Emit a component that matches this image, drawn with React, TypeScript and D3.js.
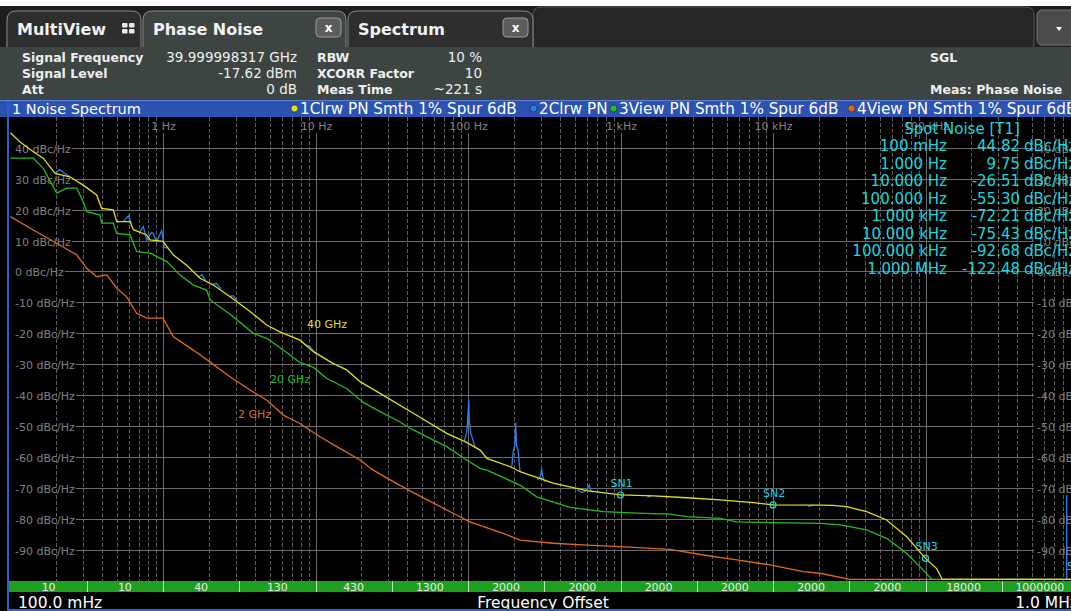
import React, { useEffect, useRef } from 'react';
import * as d3 from 'd3';

const W = 1071;
const H = 611;
const FONT = "'DejaVu Sans', Verdana, sans-serif";

// ---- axis / labels data ----
const decadeFreqs = [1, 10, 100, 1e3, 1e4, 1e5];
const decadeLabels = ['1 Hz', '10 Hz', '100 Hz', '1 kHz', '10 kHz', '100 kHz'];
const yTicks = [40, 30, 20, 10, 0, -10, -20, -30, -40, -50, -60, -70, -80, -90];
const avgCounts = ['10', '10', '40', '130', '430', '1300', '2000', '2000', '2000', '2000', '2000', '2000', '18000', '1000000'];

// ---- traces: [offset frequency Hz, dBc/Hz] ----
const trace1_40GHz: [number, number][] = [
  [0.1, 44.8], [0.115, 41.9], [0.141, 38.7], [0.164, 36.6], [0.196, 31.7], [0.245, 30.6], [0.3, 27.9],
  [0.367, 24.7], [0.396, 20.4], [0.472, 19.9], [0.497, 16.1], [0.608, 16.1], [0.639, 13.5], [0.782, 11.8],
  [0.822, 10.2], [1.0, 9.7], [1.17, 5.3], [1.43, 2.0], [1.75, -2.2], [2.14, -4.4], [2.89, -8.9], [3.72, -12.9],
  [4.78, -17.3], [5.85, -19.5], [7.9, -22.2], [9.7, -25.9], [13, -29.7], [16, -31.8], [19.6, -35.6], [26.5, -39.4],
  [43.8, -45.8], [72.5, -52.3], [98, -55.2], [120, -57.7], [133, -60.4], [190, -63.1], [219, -64.7], [362, -68.4],
  [600, -70.8], [1000, -72.2], [1640, -72.5], [2716, -73.1], [4490, -73.8], [7430, -74.7], [10000, -75.4],
  [20300, -75.5], [24800, -75.6], [30400, -76.0], [41100, -77.6], [55600, -80.3], [75300, -85.7],
  [100000, -92.7], [118400, -96.0], [128800, -100.5], [200000, -108], [1000000, -122.5],
];

const trace3_20GHz: [number, number][] = [
  [0.1, 36.6], [0.141, 36.6], [0.164, 33.3], [0.201, 25.3], [0.234, 26.9], [0.272, 26.9], [0.3, 22.5],
  [0.316, 19.3], [0.387, 18.2], [0.396, 15.6], [0.472, 15.6], [0.497, 12.3], [0.608, 11.8], [0.673, 6.4],
  [0.822, 5.9], [1.06, 3.2], [1.29, -1.1], [1.58, -4.4], [1.93, -6.0], [2.04, -9.2], [2.89, -14.6],
  [3.91, -20.0], [4.78, -21.6], [6.15, -25.4], [7.9, -29.4], [9.7, -31.0], [11.8, -34.5], [16, -37.8],
  [20.6, -42.3], [26.5, -45.3], [34, -48.0], [43.8, -51.2], [56.3, -53.9], [72.5, -56.6], [98, -60.9],
  [120, -63.6], [133, -64.2], [219, -69.0], [282, -72.8], [467, -76.2], [771, -77.6], [1276, -78.1],
  [2113, -78.4], [2716, -79.2], [4490, -79.8], [5780, -80.9], [12300, -81.2], [20300, -81.4], [27500, -81.9],
  [41100, -83.5], [55600, -86.2], [75300, -91.1], [96800, -96.5], [110000, -100.5], [200000, -112],
  [1000000, -125],
];

const trace4_2GHz: [number, number][] = [
  [0.1, 17.7], [0.141, 13.4], [0.201, 9.1], [0.272, 5.3], [0.316, 1.0], [0.367, -1.7], [0.428, -1.1],
  [0.497, -5.4], [0.578, -8.2], [0.673, -13.5], [0.782, -15.1], [1.0, -15.1], [1.17, -21.1], [1.58, -25.4],
  [2.03, -29.2], [2.75, -34.0], [3.72, -38.3], [4.78, -41.5], [6.15, -46.4], [7.9, -49.1], [10.7, -53.4],
  [13.8, -56.6], [19.6, -60.9], [23.9, -64.2], [36, -69.2], [48.4, -72.6], [80, -78.1], [103, -80.9],
  [170, -84.6], [219, -86.8], [362, -87.8], [600, -88.4], [993, -88.9], [2113, -89.8], [3490, -91.6],
  [5780, -93.2], [9550, -94.8], [15800, -97.0], [20300, -97.5], [32000, -100.3], [100000, -110],
  [1000000, -130],
];

// trace 2 (Clrw PN, raw): only where it departs from the smoothed trace 1
const trace2Segments: [number, number][][] = [
  [[0.196, 31.7], [0.21, 32.9], [0.225, 31.8], [0.245, 30.6]],
  [[0.55, 16.1], [0.593, 18.0], [0.62, 15.5]],
  [[0.7, 12.6], [0.743, 14.5], [0.782, 10.2], [0.84, 12.6], [0.863, 12.3], [0.907, 9.6], [0.98, 13.2], [1.02, 7.8], [1.08, 7.6]],
  [[1.7, -1.9], [1.8, -1.0], [1.9, -2.9]],
  [[2.1, -4.2], [2.25, -3.9], [2.4, -5.6]],
  [[2.75, -8.0], [2.9, -7.9], [3.05, -9.4]],
  [[8.5, -23.6], [9.2, -24.2], [9.9, -26.4]],
  [[94.6, -54.9], [98, -52.0], [99.6, -47.5], [101.2, -41.5], [102, -48.0], [104, -52.0], [111, -56.6]],
  [[193.6, -63.0], [198, -58.3], [203, -56.1], [205.6, -48.9], [208, -56.1], [213.9, -58.3], [219, -64.6]],
  [[285, -67.3], [296, -66.5], [301, -65.5], [304, -63.6], [307, -65.5], [313, -67.2], [322, -68.0]],
  [[520, -70.6], [560, -71.4], [600, -70.6], [624, -69.0], [640, -71.0], [660, -71.3]],
  [[1500, -72.9], [1600, -72.4]],
  [[17000, -75.9], [18500, -75.5]],
  [[842000, -101], [843000, -72.2], [844000, -101]],
];

const traceLabels = ['40 GHz', '20 GHz', '2 GHz'];
const traceLabelPos: [number, number][] = [[8.8, -18.3], [5.03, -36.0], [3.1, -47.3]];

const markerNames = ['SN1', 'SN2', 'SN3'];
const markerFreqs = [1000, 10000, 100000];
const markerValues = [-72.21, -75.43, -92.68];

const spotFreqLabels = ['100 mHz', '1.000 Hz', '10.000 Hz', '100.000 Hz', '1.000 kHz', '10.000 kHz', '100.000 kHz', '1.000 MHz'];
const spotValues = ['44.82', '9.75', '-26.51', '-55.30', '-72.21', '-75.43', '-92.68', '-122.48'];

const legendItems = ['1Clrw PN Smth 1% Spur 6dB', '2Clrw PN', '3View PN Smth 1% Spur 6dB', '4View PN Smth 1% Spur 6dB'];

const C = {
  yellow: '#dede24',
  green: '#22bd22',
  orange: '#dc6a1c',
  blue: '#2f7ee6',
  cyan: '#1ad6de',
  grid: '#6c6c6c',
  gridDash: '#5e5e5e',
  axisText: '#808080',
};

function tabPath(x0: number, x1: number, y0: number, y1: number, r: number) {
  return `M${x0},${y1} V${y0 + r} Q${x0},${y0} ${x0 + r},${y0} H${x1 - r} Q${x1},${y0} ${x1},${y0 + r} V${y1}`;
}

export default function App() {
  const ref = useRef<SVGSVGElement>(null);

  useEffect(() => {
    const svg = d3.select(ref.current!);
    svg.selectAll('*').remove();

    const x = d3.scaleLog().domain([0.1, 1e6]).range([10.5, 1078]);
    const y = d3.scaleLinear().domain([50, -100]).range([116.7, 581]);

    // ---------- header ----------
    svg.append('rect').attr('x', 0).attr('y', 0).attr('width', W).attr('height', H).attr('fill', '#000');
    svg.append('rect').attr('x', 0).attr('y', 0).attr('width', W).attr('height', 6).attr('fill', '#fff');
    svg.append('rect').attr('x', 0).attr('y', 6).attr('width', W).attr('height', 41).attr('fill', '#1d1d1d');
    svg.append('path').attr('d', tabPath(533, 1034, 7, 47, 8)).attr('fill', '#262626').attr('stroke', '#555');

    const tabs = [
      { x0: 7, x1: 141, label: 'MultiView', active: false, close: false },
      { x0: 143, x1: 346, label: 'Phase Noise', active: true, close: true },
      { x0: 348, x1: 533, label: 'Spectrum', active: false, close: true },
    ];
    tabs.forEach((t) => {
      svg.append('path').attr('d', tabPath(t.x0, t.x1, 11, 48, 9))
        .attr('fill', t.active ? '#3d4543' : '#2e2e2e').attr('stroke', '#8a8a8a').attr('stroke-width', 1);
      svg.append('text').attr('x', t.x0 + 10).attr('y', 35).text(t.label)
        .attr('fill', '#f2f2f2').attr('font-family', FONT).attr('font-weight', 'bold').attr('font-size', 16);
      if (t.close) {
        const bx = t.x1 - 30;
        svg.append('rect').attr('x', bx).attr('y', 18).attr('width', 25).attr('height', 19).attr('rx', 4)
          .attr('fill', '#5c5c5c').attr('stroke', '#9a9a9a');
        svg.append('text').attr('x', bx + 12.5).attr('y', 31.5).attr('text-anchor', 'middle').text('x')
          .attr('fill', '#fff').attr('font-family', FONT).attr('font-weight', 'bold').attr('font-size', 12);
      }
    });
    // multiview icon
    [[0, 0], [7, 0], [0, 6], [7, 6]].forEach(([dx, dy]) => {
      svg.append('rect').attr('x', 122 + dx).attr('y', 23 + dy).attr('width', 5.5).attr('height', 4.5).attr('rx', 1).attr('fill', '#e8e8e8');
    });
    // dropdown
    svg.append('rect').attr('x', 1037).attr('y', 10).attr('width', 40).attr('height', 35).attr('rx', 5)
      .attr('fill', '#4a4a4a').attr('stroke', '#777');
    svg.append('path').attr('d', 'M1056,27 L1062,27 L1059,31 Z').attr('fill', '#fff');

    // info panel
    svg.append('rect').attr('x', 0).attr('y', 47).attr('width', W).attr('height', 54).attr('fill', '#3d4543');
    svg.append('rect').attr('x', 144).attr('y', 45).attr('width', 201).attr('height', 4).attr('fill', '#3d4543');
    const infoRows = [
      ['Signal Frequency', 'RBW', 'SGL'],
      ['Signal Level', 'XCORR Factor', ''],
      ['Att', 'Meas Time', 'Meas: Phase Noise'],
    ];
    const infoVals1 = ['39.999998317 GHz', '-17.62 dBm', '0 dB'];
    const infoVals2 = ['10 %', '10', '~221 s'];
    infoRows.forEach((row, i) => {
      const by = 62 + i * 16;
      const t = (xx: number, s: string, anchor = 'start', bold = true) =>
        svg.append('text').attr('x', xx).attr('y', by).text(s).attr('text-anchor', anchor)
          .attr('fill', '#eeeeee').attr('font-family', FONT).attr('font-size', bold ? 12.5 : 13.5)
          .attr('font-weight', bold ? 'bold' : 'normal');
      t(22, row[0]);
      t(317, row[1]);
      if (row[2]) t(930, row[2]);
      t(297, infoVals1[i], 'end', false);
      t(482, infoVals2[i], 'end', false);
    });

    // title bar
    svg.append('rect').attr('x', 0).attr('y', 100).attr('width', W).attr('height', 17).attr('fill', '#2c52b2');
    svg.append('rect').attr('x', 0).attr('y', 100).attr('width', W).attr('height', 1).attr('fill', '#5b7fd6');
    svg.append('text').attr('x', 12).attr('y', 114).text('1 Noise Spectrum')
      .attr('fill', '#fff').attr('font-family', FONT).attr('font-size', 14.5);
    const legendDotX = [294.5, 533.5, 613.5, 851.5];
    const legendColors = [C.yellow, C.blue, C.green, C.orange];
    legendItems.forEach((s, i) => {
      svg.append('circle').attr('cx', legendDotX[i]).attr('cy', 108.5).attr('r', 3.6)
        .attr('fill', legendColors[i]).attr('stroke', '#1b2e6a').attr('stroke-width', 0.8);
      svg.append('text').attr('x', legendDotX[i] + 5.5).attr('y', 114).text(s)
        .attr('fill', '#fff').attr('font-family', FONT).attr('font-size', 15.2);
    });

    // ---------- plot area ----------
    svg.append('rect').attr('x', 9).attr('y', 117).attr('width', W - 9).attr('height', 464).attr('fill', '#000');

    const grid = svg.append('g');
    // dashed sub-decade lines
    for (let d = 0.1; d < 1e6; d *= 10) {
      for (let k = 2; k <= 9; k++) {
        const xx = Math.round(x(d * k)) + 0.5;
        grid.append('line').attr('x1', xx).attr('x2', xx).attr('y1', 117).attr('y2', 581)
          .attr('stroke', C.gridDash).attr('stroke-dasharray', '4,2').attr('stroke-width', 1);
      }
    }
    // decade lines + labels
    decadeFreqs.forEach((f, i) => {
      const xx = Math.round(x(f)) + 0.5;
      grid.append('line').attr('x1', xx).attr('x2', xx).attr('y1', 133).attr('y2', 581)
        .attr('stroke', C.grid).attr('stroke-width', 1);
      grid.append('text').attr('x', xx).attr('y', 129.5).attr('text-anchor', 'middle').text(decadeLabels[i])
        .attr('fill', C.axisText).attr('font-family', FONT).attr('font-size', 11);
    });
    // horizontal lines + labels
    yTicks.forEach((v) => {
      const yy = Math.round(y(v)) + 0.5;
      const lab = `${v} dBc/Hz`;
      const tl = grid.append('text').attr('x', 15).attr('y', yy + 4).text(lab)
        .attr('fill', C.axisText).attr('font-family', FONT).attr('font-size', 11);
      const w = (tl.node() as SVGTextElement).getComputedTextLength();
      grid.append('line').attr('x1', 15 + w + 1).attr('x2', 1034).attr('y1', yy).attr('y2', yy)
        .attr('stroke', C.grid).attr('stroke-width', 1);
      grid.append('text').attr('x', 1037).attr('y', yy + 4).text(lab)
        .attr('fill', C.axisText).attr('font-family', FONT).attr('font-size', 11);
    });

    // traces
    const line = d3.line<[number, number]>()
      .x((d) => x(d[0]))
      .y((d) => y(Math.max(d[1], -99.5)));
    const tg = svg.append('g');
    tg.append('path').datum(trace4_2GHz).attr('d', line).attr('fill', 'none').attr('stroke', C.orange).attr('stroke-width', 1.3);
    tg.append('path').datum(trace3_20GHz).attr('d', line).attr('fill', 'none').attr('stroke', C.green).attr('stroke-width', 1.3);
    trace2Segments.forEach((seg) => {
      tg.append('path').datum(seg).attr('d', line).attr('fill', 'none').attr('stroke', C.blue).attr('stroke-width', 1.3);
    });
    tg.append('path').datum(trace1_40GHz).attr('d', line).attr('fill', 'none').attr('stroke', C.yellow).attr('stroke-width', 1.3);

    // trace labels
    const tlColors = [C.yellow, C.green, C.orange];
    traceLabels.forEach((s, i) => {
      svg.append('text').attr('x', x(traceLabelPos[i][0])).attr('y', y(traceLabelPos[i][1])).text(s)
        .attr('fill', tlColors[i]).attr('font-family', FONT).attr('font-size', 11);
    });

    // markers
    markerNames.forEach((n, i) => {
      const mx = x(markerFreqs[i]);
      const my = y(markerValues[i]);
      svg.append('circle').attr('cx', mx).attr('cy', my).attr('r', 3).attr('fill', 'none')
        .attr('stroke', C.cyan).attr('stroke-width', 1.2);
      svg.append('text').attr('x', mx - 10).attr('y', my - 8).text(n)
        .attr('fill', C.cyan).attr('font-family', FONT).attr('font-size', 11);
    });
    svg.append('text').attr('x', 1067).attr('y', 570).text('SN4')
      .attr('fill', C.cyan).attr('font-family', FONT).attr('font-size', 11);

    // spot noise table
    svg.append('text').attr('x', 962).attr('y', 133.5).attr('text-anchor', 'middle').text('Spot Noise [T1]')
      .attr('fill', C.cyan).attr('font-family', FONT).attr('font-size', 15);
    spotFreqLabels.forEach((s, i) => {
      const by = 151 + i * 17.5;
      svg.append('text').attr('x', 947).attr('y', by).attr('text-anchor', 'end').text(s)
        .attr('fill', C.cyan).attr('font-family', FONT).attr('font-size', 15);
      svg.append('text').attr('x', 1020).attr('y', by).attr('text-anchor', 'end').text(spotValues[i])
        .attr('fill', C.cyan).attr('font-family', FONT).attr('font-size', 15);
      svg.append('text').attr('x', 1024).attr('y', by).text('dBc/Hz')
        .attr('fill', C.cyan).attr('font-family', FONT).attr('font-size', 15);
    });

    // ---------- averages bar ----------
    svg.append('rect').attr('x', 9).attr('y', 581).attr('width', W - 9).attr('height', 11).attr('fill', '#1f9f1f');
    avgCounts.forEach((s, i) => {
      const f0 = 0.1 * Math.pow(10, i / 2);
      const f1 = 0.1 * Math.pow(10, (i + 1) / 2);
      const xa = x(f0);
      const xb = x(f1);
      if (i > 0) {
        svg.append('line').attr('x1', Math.round(xa) + 0.5).attr('x2', Math.round(xa) + 0.5).attr('y1', 581).attr('y2', 592)
          .attr('stroke', '#bfe0bf').attr('stroke-width', 1);
      }
      svg.append('text').attr('x', (xa + xb) / 2).attr('y', 590.5).attr('text-anchor', 'middle').text(s)
        .attr('fill', '#ececec').attr('font-family', FONT).attr('font-size', 11);
    });

    // footer
    svg.append('text').attr('x', 18).attr('y', 608).text('100.0 mHz')
      .attr('fill', '#fff').attr('font-family', FONT).attr('font-size', 15.5);
    svg.append('text').attr('x', 543).attr('y', 608).attr('text-anchor', 'middle').text('Frequency Offset')
      .attr('fill', '#fff').attr('font-family', FONT).attr('font-size', 15.5);
    svg.append('text').attr('x', 1078).attr('y', 608).attr('text-anchor', 'end').text('1.0 MHz')
      .attr('fill', '#fff').attr('font-family', FONT).attr('font-size', 15.5);

    // blue frame
    svg.append('rect').attr('x', 7).attr('y', 101).attr('width', 2).attr('height', 510).attr('fill', '#2c5fcf');
    svg.append('rect').attr('x', 7).attr('y', 609).attr('width', W).attr('height', 2).attr('fill', '#2c5fcf');
  }, []);

  return (
    <svg
      ref={ref}
      width={W}
      height={H}
      style={{ position: 'absolute', left: 0, top: 0, display: 'block' }}
    />
  );
}
